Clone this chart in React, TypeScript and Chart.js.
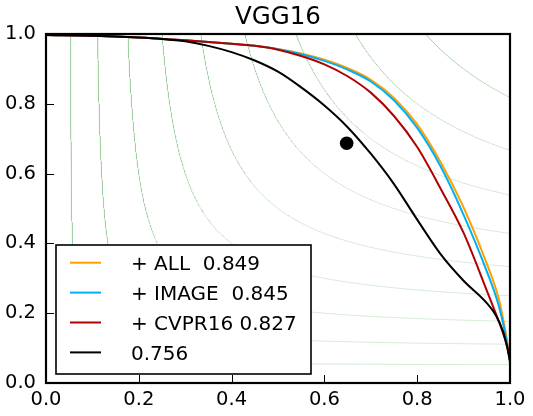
import React, { useEffect, useRef } from "react";
import { Chart, registerables } from "chart.js";

Chart.register(...registerables);

const TITLE = "VGG16";
const AXIS_TICKS = [0, 0.2, 0.4, 0.6, 0.8, 1.0];
// F-measure levels of the iso-F guide curves
const F_LEVELS = [0.1, 0.2, 0.3, 0.4, 0.5, 0.6, 0.7, 0.8, 0.9];

const SERIES_LABELS = ["+ ALL  0.849", "+ IMAGE  0.845", "+ CVPR16 0.827", "0.756"];
const SERIES_COLORS = ["#ffa000", "#00b0f0", "#b00000", "#000000"];

// precision / recall curves
const allRecall = [0, 0.1, 0.2, 0.3, 0.4, 0.45, 0.5, 0.55, 0.6, 0.65, 0.7, 0.75, 0.8, 0.85, 0.9, 0.95, 0.975, 0.99, 1.0];
const allPrecision = [0.997, 0.995, 0.99, 0.982, 0.972, 0.966, 0.957, 0.944, 0.926, 0.902, 0.869, 0.817, 0.741, 0.634, 0.503, 0.342, 0.245, 0.15, 0.066];

const imageRecall = [0, 0.1, 0.2, 0.3, 0.4, 0.45, 0.5, 0.55, 0.6, 0.65, 0.7, 0.75, 0.8, 0.85, 0.9, 0.95, 0.975, 0.99, 1.0];
const imagePrecision = [0.997, 0.995, 0.99, 0.982, 0.972, 0.966, 0.956, 0.942, 0.923, 0.898, 0.864, 0.81, 0.731, 0.622, 0.482, 0.32, 0.225, 0.14, 0.066];

const cvprRecall = [0, 0.1, 0.2, 0.3, 0.4, 0.45, 0.5, 0.55, 0.6, 0.65, 0.7, 0.75, 0.8, 0.85, 0.9, 0.95, 0.97, 0.985, 0.995, 1.0];
const cvprPrecision = [0.997, 0.995, 0.99, 0.982, 0.972, 0.966, 0.955, 0.937, 0.913, 0.879, 0.832, 0.765, 0.676, 0.558, 0.43, 0.265, 0.197, 0.143, 0.1, 0.066];

const baseRecall = [0, 0.1, 0.2, 0.25, 0.3, 0.35, 0.4, 0.45, 0.5, 0.55, 0.6, 0.65, 0.7, 0.75, 0.8, 0.85, 0.9, 0.95, 0.97, 0.985, 0.995, 1.0];
const basePrecision = [0.997, 0.995, 0.99, 0.986, 0.979, 0.966, 0.948, 0.924, 0.892, 0.847, 0.795, 0.733, 0.657, 0.57, 0.468, 0.37, 0.293, 0.229, 0.193, 0.148, 0.095, 0.06];

// single operating point
const pointRecall = [0.648];
const pointPrecision = [0.687];

const FONT = '"DejaVu Sans", "Liberation Sans", sans-serif';

const toPoints = (xs: number[], ys: number[]) => xs.map((x, i) => ({ x, y: ys[i] }));

// iso-F curve: precision = f*r / (2r - f), from the top edge (p = 1) to the right edge (r = 1)
function isoF(f: number) {
  const rTop = f / (2 - f);
  const pRight = f / (2 - f);
  const pts: { x: number; y: number }[] = [];
  const n = 200;
  for (let i = 0; i <= n; i++) {
    const r = rTop + ((1 - rTop) * i) / n;
    pts.push({ x: r, y: (f * r) / (2 * r - f) });
    const p = pRight + ((1 - pRight) * i) / n;
    pts.push({ x: (f * p) / (2 * p - f), y: p });
  }
  pts.sort((a, b) => a.x - b.x);
  return pts;
}

const framePlugin = {
  id: "frameAndLegend",
  afterDatasetsDraw(chart: any) {
    const { ctx, chartArea } = chart;
    const { left, right, top, bottom } = chartArea;
    const xs = chart.scales.x;
    const ys = chart.scales.y;
    ctx.save();
    // inward tick marks
    ctx.strokeStyle = "#000";
    ctx.lineWidth = 1;
    AXIS_TICKS.forEach((v) => {
      const px = Math.round(xs.getPixelForValue(v)) + 0.5;
      ctx.beginPath();
      ctx.moveTo(px, bottom);
      ctx.lineTo(px, bottom - 8);
      ctx.stroke();
      const py = Math.round(ys.getPixelForValue(v)) + 0.5;
      ctx.beginPath();
      ctx.moveTo(left, py);
      ctx.lineTo(left + 8, py);
      ctx.stroke();
    });
    // axes frame
    ctx.lineWidth = 2.2;
    ctx.strokeRect(left, top, right - left, bottom - top);

    // legend box
    const lx = left + 10;
    const lyBottom = bottom - 9;
    const lw = 255;
    const lh = 129;
    const ly = lyBottom - lh;
    ctx.fillStyle = "#fff";
    ctx.fillRect(lx, ly, lw, lh);
    ctx.lineWidth = 1.6;
    ctx.strokeStyle = "#000";
    ctx.strokeRect(lx, ly, lw, lh);
    ctx.font = `20px ${FONT}`;
    ctx.textAlign = "left";
    ctx.textBaseline = "alphabetic";
    SERIES_LABELS.forEach((label, i) => {
      const rowY = ly + 17.7 + i * 29.9;
      ctx.strokeStyle = SERIES_COLORS[i];
      ctx.lineWidth = 2;
      ctx.beginPath();
      ctx.moveTo(lx + 14, rowY);
      ctx.lineTo(lx + 45, rowY);
      ctx.stroke();
      ctx.fillStyle = "#000";
      ctx.fillText(label, lx + 75, rowY + 7.3);
    });
    ctx.restore();
  },
  afterDraw(chart: any) {
    const { ctx, chartArea } = chart;
    ctx.save();
    ctx.fillStyle = "#000";
    ctx.font = `24.5px ${FONT}`;
    ctx.textAlign = "center";
    ctx.textBaseline = "alphabetic";
    ctx.fillText(TITLE, (chartArea.left + chartArea.right) / 2, 24);
    ctx.restore();
  },
};

export default function App() {
  const canvasRef = useRef<HTMLCanvasElement | null>(null);

  useEffect(() => {
    const canvas = canvasRef.current;
    if (!canvas) return;

    const guideSets = F_LEVELS.map((f) => ({
      label: `F=${f}`,
      data: isoF(f),
      showLine: true,
      borderColor: "rgba(0,128,0,0.16)",
      borderWidth: 1,
      pointRadius: 0,
      tension: 0,
      order: 10,
    }));

    const curves = [
      [allRecall, allPrecision],
      [imageRecall, imagePrecision],
      [cvprRecall, cvprPrecision],
      [baseRecall, basePrecision],
    ].map(([r, p], i) => ({
      label: SERIES_LABELS[i],
      data: toPoints(r, p),
      showLine: true,
      borderColor: SERIES_COLORS[i],
      borderWidth: 2,
      pointRadius: 0,
      cubicInterpolationMode: "monotone" as const,
      order: 4 - i,
    }));

    const chart = new Chart(canvas, {
      type: "scatter",
      data: {
        datasets: [
          ...guideSets,
          ...curves,
          {
            label: "point",
            data: toPoints(pointRecall, pointPrecision),
            showLine: false,
            pointRadius: 6.8,
            pointBackgroundColor: "#000",
            pointBorderColor: "#000",
            pointBorderWidth: 0,
            order: 0,
          },
        ] as any,
      },
      options: {
        animation: false,
        responsive: false,
        events: [],
        layout: { padding: { top: 34, right: 23, left: 0, bottom: 0 } },
        plugins: {
          legend: { display: false },
          tooltip: { enabled: false },
          title: { display: false },
        },
        scales: {
          x: {
            type: "linear",
            min: 0,
            max: 1,
            afterBuildTicks: (s: any) => {
              s.ticks = AXIS_TICKS.map((value) => ({ value }));
            },
            afterFit: (s: any) => {
              s.height = 33;
            },
            grid: { display: false, drawTicks: false },
            border: { display: false },
            ticks: {
              padding: 5,
              color: "#000",
              maxRotation: 0,
              autoSkip: false,
              font: { family: FONT, size: 19.5 },
              callback: (v: any) => Number(v).toFixed(1),
            },
          },
          y: {
            type: "linear",
            min: 0,
            max: 1,
            afterBuildTicks: (s: any) => {
              s.ticks = AXIS_TICKS.map((value) => ({ value }));
            },
            afterFit: (s: any) => {
              s.width = 46;
            },
            grid: { display: false, drawTicks: false },
            border: { display: false },
            ticks: {
              padding: 10,
              color: "#000",
              autoSkip: false,
              font: { family: FONT, size: 19.5 },
              callback: (v: any) => Number(v).toFixed(1),
            },
          },
        },
      },
      plugins: [framePlugin],
    });

    return () => chart.destroy();
  }, []);

  return (
    <div style={{ position: "absolute", left: 0, top: 0, width: 533, height: 416, background: "#fff" }}>
      <canvas ref={canvasRef} width={533} height={416} style={{ display: "block" }} />
    </div>
  );
}
